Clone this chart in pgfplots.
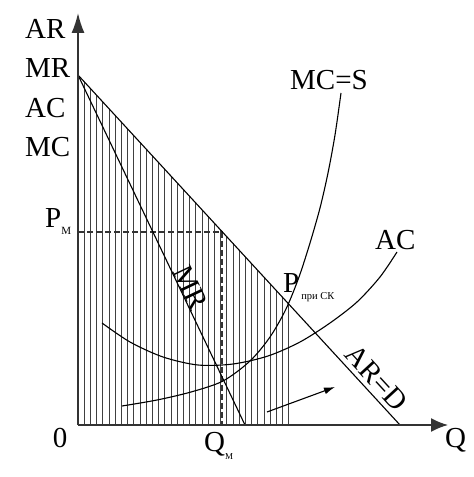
\documentclass[border=0pt]{standalone}
\usepackage{fontspec}
\setmainfont{Liberation Serif}
\usepackage{pgfplots}
\pgfplotsset{compat=1.18}
\usetikzlibrary{arrows.meta}
\begin{document}
\begin{tikzpicture}
\begin{axis}[x=1pt,y=1pt,xmin=-78,xmax=396,ymin=-52,ymax=425,hide axis,clip=false]
\addplot[draw=none,forget plot] coordinates {(-78,-52) (396,425)};
% hatching under demand up to competitive quantity
\addplot[ycomb, black!75, line width=0.7pt, mark=none] coordinates {
(6.2,343.3) (12.4,336.5) (18.6,329.8) (24.8,323.0) (31.0,316.3) (37.2,309.6)
(43.4,302.8) (49.6,296.1) (55.8,289.3) (62.0,282.6) (68.2,275.9) (74.4,269.1)
(80.6,262.4) (86.8,255.6) (93.0,248.9) (99.2,242.2) (105.4,235.4) (111.6,228.7)
(117.8,221.9) (124.0,215.2) (130.2,208.5) (136.4,201.7) (142.6,195.0) (148.8,188.3)
(155.0,181.5) (161.2,174.8) (167.4,168.0) (173.6,161.3) (179.8,154.6) (186.0,147.8)
(192.2,141.1) (198.4,134.3) (204.6,127.6) (210.8,120.9)};
% dashed P_M, Q_M
\addplot[black!80, line width=1.2pt, dash pattern=on 6pt off 3pt] coordinates {(0,193) (144,193) (144,0)};
% demand AR=D
\addplot[black, line width=1.1pt] coordinates {(0,350) (322,0)};
% MR
\addplot[black, line width=1.1pt] coordinates {(0,350) (167,0)};
% MC=S
\addplot[black, line width=1.1pt, smooth] coordinates {(44,19) (79,25) (113,33) (145,44) (172,64) (192,88) (208,116) (221,148) (232,182) (242,217) (250,252) (257,290) (263,332)};
% AC
\addplot[black, line width=1.1pt, smooth] coordinates {(24,102) (52,83) (85,68) (120,60) (155,61) (190,69) (222,83) (252,102) (279,123) (302,148) (319,173)};
% small arrow
\addplot[black, line width=1.1pt, -{Latex[length=11pt,width=7pt]}] coordinates {(189,13) (257,38)};
% axes
\addplot[black!80, line width=1.6pt, -{Latex[length=17pt,width=14pt]}] coordinates {(0,0) (370,0)};
\addplot[black!80, line width=1.6pt, -{Latex[length=20pt,width=13pt]}] coordinates {(0,0) (0,412)};
% labels
\node[anchor=base west, inner sep=0pt, font=\fontsize{29}{30}\selectfont] at (axis cs:-53,386) {AR};
\node[anchor=base west, inner sep=0pt, font=\fontsize{29}{30}\selectfont] at (axis cs:-53,347) {MR};
\node[anchor=base west, inner sep=0pt, font=\fontsize{29}{30}\selectfont] at (axis cs:-53,307) {AC};
\node[anchor=base west, inner sep=0pt, font=\fontsize{29}{30}\selectfont] at (axis cs:-53,268) {MC};
\node[anchor=base, inner sep=0pt, font=\fontsize{29}{30}\selectfont] at (axis cs:-18,-22) {0};
\node[anchor=base west, inner sep=0pt, font=\fontsize{29}{30}\selectfont] at (axis cs:367,-22) {Q};
\node[anchor=base west, inner sep=0pt, font=\fontsize{29}{30}\selectfont] at (axis cs:126,-27) {Q\raisebox{-8pt}{\fontsize{9}{9}\selectfont М}};
\node[anchor=base west, inner sep=0pt, font=\fontsize{29}{30}\selectfont] at (axis cs:-33,197) {P\raisebox{-7pt}{\fontsize{11}{11}\selectfont М}};
\node[anchor=base west, inner sep=0pt, font=\fontsize{29}{30}\selectfont] at (axis cs:205,132) {P\hspace{2pt}\raisebox{-7pt}{\fontsize{10.5}{11}\selectfont при СК}};
\node[anchor=base west, inner sep=0pt, font=\fontsize{29}{30}\selectfont] at (axis cs:212,335) {MC=S};
\node[anchor=base west, inner sep=0pt, font=\fontsize{29}{30}\selectfont] at (axis cs:297,175) {AC};
\node[rotate=-64.5, anchor=south, inner sep=1pt, font=\fontsize{29}{30}\selectfont] at (axis cs:103.5,133) {MR};
\node[rotate=-47.4, anchor=south, inner sep=5pt, font=\fontsize{29}{30}\selectfont] at (axis cs:288,37) {AR=D};
\end{axis}
\end{tikzpicture}
\end{document}
